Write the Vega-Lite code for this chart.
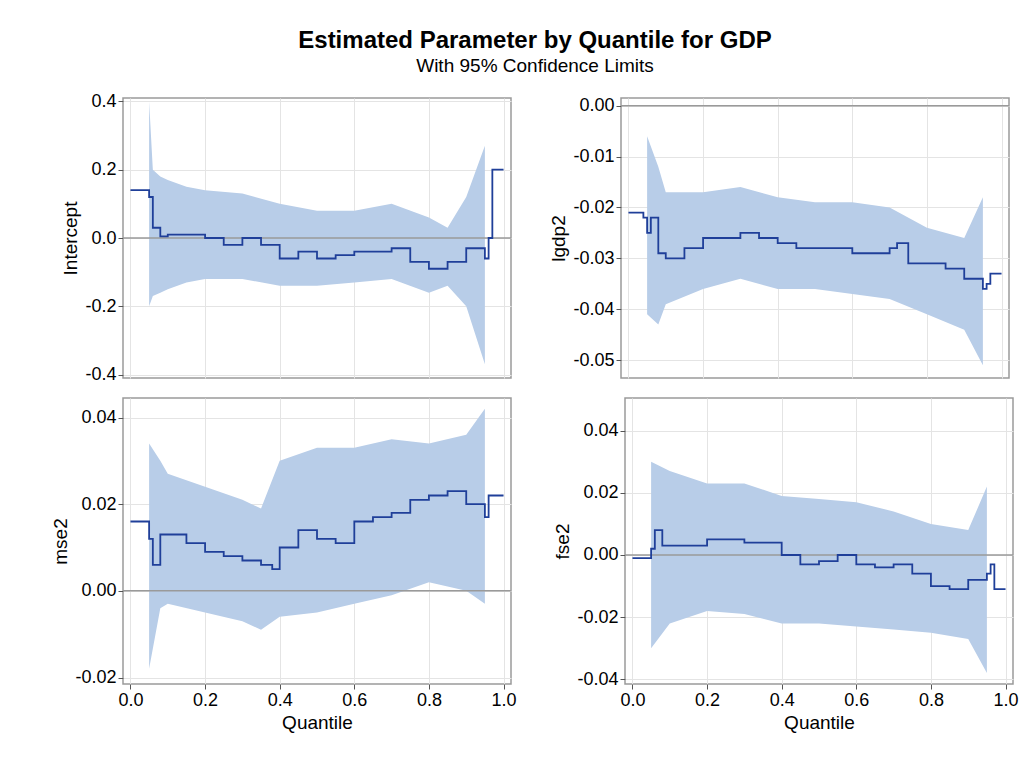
{
  "$schema": "https://vega.github.io/schema/vega-lite/v6.json",
  "background": "white",
  "padding": {"left": 51, "top": 28, "right": 5, "bottom": 5},
  "title": {"text": "Estimated Parameter by Quantile for GDP", "subtitle": "With 95% Confidence Limits", "fontSize": 24, "subtitleFontSize": 19, "font": "Liberation Sans", "subtitleFont": "Liberation Sans", "subtitleColor": "#000", "anchor": "middle", "offset": 16, "subtitlePadding": 4},
  "config": {
    "font": "Liberation Sans",
    "view": {"stroke": "#9a9a9a", "strokeWidth": 1.5},
    "axis": {"labelFontSize": 18, "titleFontSize": 19, "titleFontWeight": "normal", "labelColor": "#000", "titleColor": "#000", "gridColor": "#e4e4e4", "domain": false, "tickColor": "#555", "labelExpr": "replace(datum.label, '\u2212', '-')"}
  },
  "spacing": 12,
  "datasets": {
    "band": [
      {"p": "Intercept", "q": 0.05, "lo": -0.2, "hi": 0.4}, {"p": "Intercept", "q": 0.06, "lo": -0.17, "hi": 0.2}, {"p": "Intercept", "q": 0.08, "lo": -0.16, "hi": 0.18}, {"p": "Intercept", "q": 0.1, "lo": -0.15, "hi": 0.17}, {"p": "Intercept", "q": 0.15, "lo": -0.13, "hi": 0.15}, {"p": "Intercept", "q": 0.2, "lo": -0.12, "hi": 0.14}, {"p": "Intercept", "q": 0.3, "lo": -0.12, "hi": 0.13}, {"p": "Intercept", "q": 0.4, "lo": -0.14, "hi": 0.1}, {"p": "Intercept", "q": 0.5, "lo": -0.14, "hi": 0.08}, {"p": "Intercept", "q": 0.6, "lo": -0.13, "hi": 0.08}, {"p": "Intercept", "q": 0.7, "lo": -0.12, "hi": 0.1}, {"p": "Intercept", "q": 0.8, "lo": -0.16, "hi": 0.06}, {"p": "Intercept", "q": 0.85, "lo": -0.14, "hi": 0.03}, {"p": "Intercept", "q": 0.9, "lo": -0.2, "hi": 0.12}, {"p": "Intercept", "q": 0.95, "lo": -0.37, "hi": 0.27},
      {"p": "lgdp2", "q": 0.05, "lo": -0.041, "hi": -0.006}, {"p": "lgdp2", "q": 0.08, "lo": -0.043, "hi": -0.012}, {"p": "lgdp2", "q": 0.1, "lo": -0.039, "hi": -0.017}, {"p": "lgdp2", "q": 0.2, "lo": -0.036, "hi": -0.017}, {"p": "lgdp2", "q": 0.3, "lo": -0.034, "hi": -0.016}, {"p": "lgdp2", "q": 0.4, "lo": -0.036, "hi": -0.018}, {"p": "lgdp2", "q": 0.5, "lo": -0.036, "hi": -0.019}, {"p": "lgdp2", "q": 0.6, "lo": -0.037, "hi": -0.019}, {"p": "lgdp2", "q": 0.7, "lo": -0.038, "hi": -0.02}, {"p": "lgdp2", "q": 0.8, "lo": -0.041, "hi": -0.024}, {"p": "lgdp2", "q": 0.9, "lo": -0.044, "hi": -0.026}, {"p": "lgdp2", "q": 0.95, "lo": -0.051, "hi": -0.018},
      {"p": "mse2", "q": 0.05, "lo": -0.018, "hi": 0.034}, {"p": "mse2", "q": 0.08, "lo": -0.004, "hi": 0.03}, {"p": "mse2", "q": 0.1, "lo": -0.003, "hi": 0.027}, {"p": "mse2", "q": 0.2, "lo": -0.005, "hi": 0.024}, {"p": "mse2", "q": 0.3, "lo": -0.007, "hi": 0.021}, {"p": "mse2", "q": 0.35, "lo": -0.009, "hi": 0.019}, {"p": "mse2", "q": 0.4, "lo": -0.006, "hi": 0.03}, {"p": "mse2", "q": 0.5, "lo": -0.005, "hi": 0.033}, {"p": "mse2", "q": 0.6, "lo": -0.003, "hi": 0.033}, {"p": "mse2", "q": 0.7, "lo": -0.001, "hi": 0.035}, {"p": "mse2", "q": 0.8, "lo": 0.002, "hi": 0.034}, {"p": "mse2", "q": 0.9, "lo": 0.0, "hi": 0.036}, {"p": "mse2", "q": 0.95, "lo": -0.003, "hi": 0.042},
      {"p": "fse2", "q": 0.05, "lo": -0.03, "hi": 0.03}, {"p": "fse2", "q": 0.1, "lo": -0.022, "hi": 0.027}, {"p": "fse2", "q": 0.2, "lo": -0.018, "hi": 0.023}, {"p": "fse2", "q": 0.3, "lo": -0.019, "hi": 0.023}, {"p": "fse2", "q": 0.4, "lo": -0.022, "hi": 0.019}, {"p": "fse2", "q": 0.5, "lo": -0.022, "hi": 0.018}, {"p": "fse2", "q": 0.6, "lo": -0.023, "hi": 0.017}, {"p": "fse2", "q": 0.7, "lo": -0.024, "hi": 0.014}, {"p": "fse2", "q": 0.8, "lo": -0.025, "hi": 0.01}, {"p": "fse2", "q": 0.9, "lo": -0.027, "hi": 0.008}, {"p": "fse2", "q": 0.95, "lo": -0.038, "hi": 0.022}
    ],
    "est": [
      {"p": "Intercept", "q": 0, "v": 0.14}, {"p": "Intercept", "q": 0.04, "v": 0.14}, {"p": "Intercept", "q": 0.05, "v": 0.12}, {"p": "Intercept", "q": 0.06, "v": 0.03}, {"p": "Intercept", "q": 0.08, "v": 0.005}, {"p": "Intercept", "q": 0.1, "v": 0.01}, {"p": "Intercept", "q": 0.15, "v": 0.01}, {"p": "Intercept", "q": 0.2, "v": 0.0}, {"p": "Intercept", "q": 0.25, "v": -0.02}, {"p": "Intercept", "q": 0.3, "v": 0.0}, {"p": "Intercept", "q": 0.35, "v": -0.02}, {"p": "Intercept", "q": 0.4, "v": -0.06}, {"p": "Intercept", "q": 0.45, "v": -0.04}, {"p": "Intercept", "q": 0.5, "v": -0.06}, {"p": "Intercept", "q": 0.55, "v": -0.05}, {"p": "Intercept", "q": 0.6, "v": -0.04}, {"p": "Intercept", "q": 0.65, "v": -0.04}, {"p": "Intercept", "q": 0.7, "v": -0.03}, {"p": "Intercept", "q": 0.75, "v": -0.07}, {"p": "Intercept", "q": 0.8, "v": -0.09}, {"p": "Intercept", "q": 0.85, "v": -0.07}, {"p": "Intercept", "q": 0.9, "v": -0.03}, {"p": "Intercept", "q": 0.95, "v": -0.06}, {"p": "Intercept", "q": 0.96, "v": 0.0}, {"p": "Intercept", "q": 0.97, "v": 0.2}, {"p": "Intercept", "q": 1, "v": 0.2},
      {"p": "lgdp2", "q": 0, "v": -0.021}, {"p": "lgdp2", "q": 0.04, "v": -0.022}, {"p": "lgdp2", "q": 0.05, "v": -0.025}, {"p": "lgdp2", "q": 0.06, "v": -0.022}, {"p": "lgdp2", "q": 0.08, "v": -0.029}, {"p": "lgdp2", "q": 0.1, "v": -0.03}, {"p": "lgdp2", "q": 0.15, "v": -0.028}, {"p": "lgdp2", "q": 0.2, "v": -0.026}, {"p": "lgdp2", "q": 0.25, "v": -0.026}, {"p": "lgdp2", "q": 0.3, "v": -0.025}, {"p": "lgdp2", "q": 0.35, "v": -0.026}, {"p": "lgdp2", "q": 0.4, "v": -0.027}, {"p": "lgdp2", "q": 0.45, "v": -0.028}, {"p": "lgdp2", "q": 0.5, "v": -0.028}, {"p": "lgdp2", "q": 0.55, "v": -0.028}, {"p": "lgdp2", "q": 0.6, "v": -0.029}, {"p": "lgdp2", "q": 0.65, "v": -0.029}, {"p": "lgdp2", "q": 0.7, "v": -0.028}, {"p": "lgdp2", "q": 0.72, "v": -0.027}, {"p": "lgdp2", "q": 0.75, "v": -0.031}, {"p": "lgdp2", "q": 0.8, "v": -0.031}, {"p": "lgdp2", "q": 0.85, "v": -0.032}, {"p": "lgdp2", "q": 0.9, "v": -0.034}, {"p": "lgdp2", "q": 0.95, "v": -0.036}, {"p": "lgdp2", "q": 0.96, "v": -0.035}, {"p": "lgdp2", "q": 0.97, "v": -0.033}, {"p": "lgdp2", "q": 1, "v": -0.033},
      {"p": "mse2", "q": 0, "v": 0.016}, {"p": "mse2", "q": 0.04, "v": 0.016}, {"p": "mse2", "q": 0.05, "v": 0.012}, {"p": "mse2", "q": 0.06, "v": 0.006}, {"p": "mse2", "q": 0.08, "v": 0.013}, {"p": "mse2", "q": 0.1, "v": 0.013}, {"p": "mse2", "q": 0.15, "v": 0.011}, {"p": "mse2", "q": 0.2, "v": 0.009}, {"p": "mse2", "q": 0.25, "v": 0.008}, {"p": "mse2", "q": 0.3, "v": 0.007}, {"p": "mse2", "q": 0.35, "v": 0.006}, {"p": "mse2", "q": 0.38, "v": 0.005}, {"p": "mse2", "q": 0.4, "v": 0.01}, {"p": "mse2", "q": 0.45, "v": 0.014}, {"p": "mse2", "q": 0.5, "v": 0.012}, {"p": "mse2", "q": 0.55, "v": 0.011}, {"p": "mse2", "q": 0.6, "v": 0.016}, {"p": "mse2", "q": 0.65, "v": 0.017}, {"p": "mse2", "q": 0.7, "v": 0.018}, {"p": "mse2", "q": 0.75, "v": 0.021}, {"p": "mse2", "q": 0.8, "v": 0.022}, {"p": "mse2", "q": 0.85, "v": 0.023}, {"p": "mse2", "q": 0.9, "v": 0.02}, {"p": "mse2", "q": 0.95, "v": 0.017}, {"p": "mse2", "q": 0.96, "v": 0.022}, {"p": "mse2", "q": 1, "v": 0.022},
      {"p": "fse2", "q": 0, "v": -0.001}, {"p": "fse2", "q": 0.04, "v": -0.001}, {"p": "fse2", "q": 0.05, "v": 0.002}, {"p": "fse2", "q": 0.06, "v": 0.008}, {"p": "fse2", "q": 0.08, "v": 0.003}, {"p": "fse2", "q": 0.1, "v": 0.003}, {"p": "fse2", "q": 0.2, "v": 0.005}, {"p": "fse2", "q": 0.3, "v": 0.004}, {"p": "fse2", "q": 0.35, "v": 0.004}, {"p": "fse2", "q": 0.4, "v": 0.0}, {"p": "fse2", "q": 0.45, "v": -0.003}, {"p": "fse2", "q": 0.5, "v": -0.002}, {"p": "fse2", "q": 0.55, "v": 0.0}, {"p": "fse2", "q": 0.6, "v": -0.003}, {"p": "fse2", "q": 0.65, "v": -0.004}, {"p": "fse2", "q": 0.7, "v": -0.003}, {"p": "fse2", "q": 0.75, "v": -0.006}, {"p": "fse2", "q": 0.8, "v": -0.01}, {"p": "fse2", "q": 0.85, "v": -0.011}, {"p": "fse2", "q": 0.9, "v": -0.008}, {"p": "fse2", "q": 0.95, "v": -0.006}, {"p": "fse2", "q": 0.96, "v": -0.003}, {"p": "fse2", "q": 0.97, "v": -0.011}, {"p": "fse2", "q": 1, "v": -0.011}
    ]
  },
  "vconcat": [
    {"spacing": 36, "hconcat": [
      {"width": 388, "height": 280,
       "layer": [
        {"data": {"name": "band"}, "transform": [{"filter": "datum.p === 'Intercept'"}], "mark": {"type": "area", "color": "#b8cde8"},
         "encoding": {"x": {"field": "q", "type": "quantitative", "scale": {"domain": [-0.02, 1.02], "nice": false}, "axis": {"values": [0, 0.2, 0.4, 0.6, 0.8, 1], "labels": false, "ticks": false, "title": null}},
          "y": {"field": "lo", "type": "quantitative", "scale": {"domain": [-0.41, 0.41], "nice": false}, "axis": {"values": [-0.4, -0.2, 0, 0.2, 0.4], "format": ".1f", "title": "Intercept"}}, "y2": {"field": "hi"}}},
        {"data": {"values": [{"z": 0}]}, "mark": {"type": "rule", "color": "#9a9a9a", "strokeWidth": 1.5}, "encoding": {"y": {"field": "z", "type": "quantitative"}}},
        {"data": {"name": "est"}, "transform": [{"filter": "datum.p === 'Intercept'"}], "mark": {"type": "line", "color": "#1f3f99", "strokeWidth": 1.8, "interpolate": "step-after"},
         "encoding": {"x": {"field": "q", "type": "quantitative"}, "y": {"field": "v", "type": "quantitative"}}}
       ]},
      {"width": 388, "height": 280,
       "layer": [
        {"data": {"name": "band"}, "transform": [{"filter": "datum.p === 'lgdp2'"}], "mark": {"type": "area", "color": "#b8cde8"},
         "encoding": {"x": {"field": "q", "type": "quantitative", "scale": {"domain": [-0.02, 1.02], "nice": false}, "axis": {"values": [0, 0.2, 0.4, 0.6, 0.8, 1], "labels": false, "ticks": false, "title": null}},
          "y": {"field": "lo", "type": "quantitative", "scale": {"domain": [-0.0535, 0.0015], "nice": false}, "axis": {"values": [-0.05, -0.04, -0.03, -0.02, -0.01, 0], "format": ".2f", "title": "lgdp2"}}, "y2": {"field": "hi"}}},
        {"data": {"values": [{"z": 0}]}, "mark": {"type": "rule", "color": "#9a9a9a", "strokeWidth": 1.5}, "encoding": {"y": {"field": "z", "type": "quantitative"}}},
        {"data": {"name": "est"}, "transform": [{"filter": "datum.p === 'lgdp2'"}], "mark": {"type": "line", "color": "#1f3f99", "strokeWidth": 1.8, "interpolate": "step-after"},
         "encoding": {"x": {"field": "q", "type": "quantitative"}, "y": {"field": "v", "type": "quantitative"}}}
       ]}
    ]},
    {"spacing": 36, "hconcat": [
      {"width": 388, "height": 286,
       "layer": [
        {"data": {"name": "band"}, "transform": [{"filter": "datum.p === 'mse2'"}], "mark": {"type": "area", "color": "#b8cde8"},
         "encoding": {"x": {"field": "q", "type": "quantitative", "scale": {"domain": [-0.02, 1.02], "nice": false}, "axis": {"values": [0, 0.2, 0.4, 0.6, 0.8, 1], "format": ".1f", "title": "Quantile"}},
          "y": {"field": "lo", "type": "quantitative", "scale": {"domain": [-0.0215, 0.0445], "nice": false}, "axis": {"values": [-0.02, 0, 0.02, 0.04], "format": ".2f", "title": "mse2"}}, "y2": {"field": "hi"}}},
        {"data": {"values": [{"z": 0}]}, "mark": {"type": "rule", "color": "#9a9a9a", "strokeWidth": 1.5}, "encoding": {"y": {"field": "z", "type": "quantitative"}}},
        {"data": {"name": "est"}, "transform": [{"filter": "datum.p === 'mse2'"}], "mark": {"type": "line", "color": "#1f3f99", "strokeWidth": 1.8, "interpolate": "step-after"},
         "encoding": {"x": {"field": "q", "type": "quantitative"}, "y": {"field": "v", "type": "quantitative"}}}
       ]},
      {"width": 388, "height": 286,
       "layer": [
        {"data": {"name": "band"}, "transform": [{"filter": "datum.p === 'fse2'"}], "mark": {"type": "area", "color": "#b8cde8"},
         "encoding": {"x": {"field": "q", "type": "quantitative", "scale": {"domain": [-0.02, 1.02], "nice": false}, "axis": {"values": [0, 0.2, 0.4, 0.6, 0.8, 1], "format": ".1f", "title": "Quantile"}},
          "y": {"field": "lo", "type": "quantitative", "scale": {"domain": [-0.0415, 0.0505], "nice": false}, "axis": {"values": [-0.04, -0.02, 0, 0.02, 0.04], "format": ".2f", "title": "fse2"}}, "y2": {"field": "hi"}}},
        {"data": {"values": [{"z": 0}]}, "mark": {"type": "rule", "color": "#9a9a9a", "strokeWidth": 1.5}, "encoding": {"y": {"field": "z", "type": "quantitative"}}},
        {"data": {"name": "est"}, "transform": [{"filter": "datum.p === 'fse2'"}], "mark": {"type": "line", "color": "#1f3f99", "strokeWidth": 1.8, "interpolate": "step-after"},
         "encoding": {"x": {"field": "q", "type": "quantitative"}, "y": {"field": "v", "type": "quantitative"}}}
       ]}
    ]}
  ]
}
